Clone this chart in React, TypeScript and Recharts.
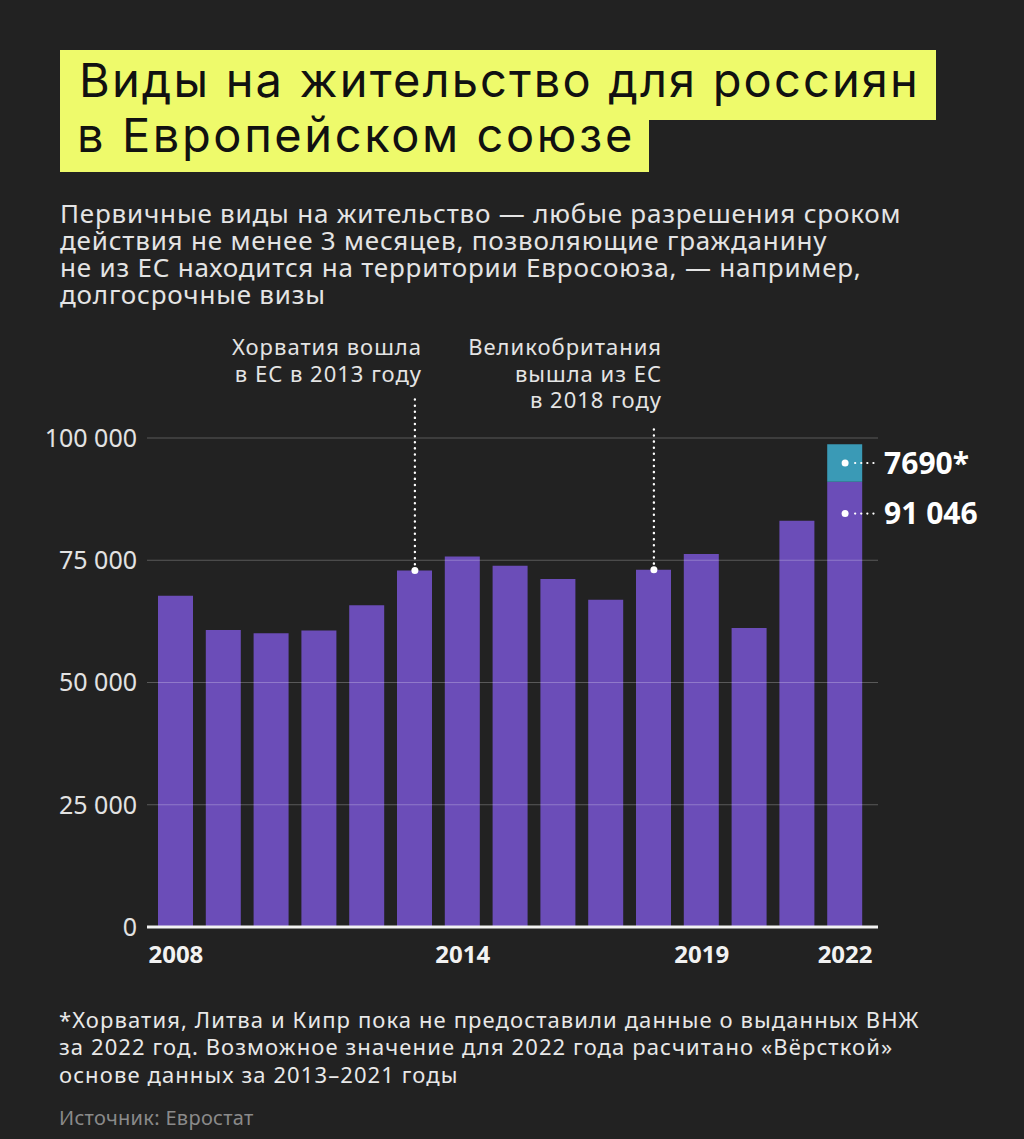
import React from 'react';
import { BarChart, Bar, XAxis, YAxis, ReferenceLine, ReferenceDot } from 'recharts';

const years = ['2008', '2009', '2010', '2011', '2012', '2013', '2014', '2015', '2016', '2017', '2018', '2019', '2020', '2021', '2022'];
const permits = [67760, 60750, 60060, 60610, 65780, 72920, 75780, 73880, 71160, 66940, 73060, 76260, 61160, 83060, 91046];
const estimate = [0, 0, 0, 0, 0, 0, 0, 0, 0, 0, 0, 0, 0, 0, 7690];
const yTicks = [0, 25000, 50000, 75000, 100000];
const shownYears = ['2008', '2014', '2019', '2022'];

const BG = '#222222';
const PURPLE = '#6b4db8';
const TEAL = '#3a9ab6';
const YELLOW = '#eefa6b';
const FONT = '"Noto Sans", sans-serif';

const chartData = years.map((year, i) => ({
  year,
  permits: permits[i],
  estimate: estimate[i],
}));

const fmt = (v: number) => (v === 0 ? '0' : v.toLocaleString('ru-RU').replace(/\s/g, ' '));

function ValueMark(props: any) {
  const { cx, cy, text } = props;
  return (
    <g>
      <circle cx={cx} cy={cy} r={3.5} fill="#fff" />
      <line x1={cx + 10} y1={cy} x2={cx + 33} y2={cy} stroke="#fff" strokeWidth={2.2} strokeDasharray="0.1 6" strokeLinecap="round" />
      <text x={cx + 39} y={cy} dy="0.36em" fill="#fff" fontFamily={FONT} fontWeight={700} fontSize={30}>{text}</text>
    </g>
  );
}

export default function App() {
  return (
    <div style={{ position: 'absolute', left: 0, top: 0, width: 1024, height: 1139, background: BG, overflow: 'hidden' }}>
      <div style={{ position: 'absolute', left: 0, top: 0 }}>
        <BarChart width={1024} height={1000} data={chartData} margin={{ top: 438, right: 146, bottom: 0, left: 0 }}>
          <XAxis
            dataKey="year"
            interval={0}
            padding={{ left: 5, right: 9 }}
            height={73}
            tickSize={0}
            tickMargin={19}
            tickFormatter={(v) => (shownYears.includes(v) ? v : '')}
            tick={{ fontFamily: FONT, fontSize: 24, fontWeight: 700, fill: '#f2f2f2' }}
            axisLine={{ stroke: '#f2f2f2', strokeWidth: 3 }}
          />
          <YAxis
            width={147}
            domain={[0, 100000]}
            ticks={yTicks}
            tickSize={0}
            tickMargin={10}
            axisLine={false}
            tickFormatter={fmt}
            tick={{ fontFamily: FONT, fontSize: 25, fill: '#e2e2e2' }}
          />
          <Bar dataKey="permits" stackId="a" fill={PURPLE} barSize={35} isAnimationActive={false} />
          <Bar dataKey="estimate" stackId="a" fill={TEAL} barSize={35} isAnimationActive={false} />
          {yTicks.slice(1).map((t) => (
            <ReferenceLine key={t} y={t} stroke="rgba(255,255,255,0.25)" strokeWidth={1} />
          ))}
          <ReferenceLine
            segment={[{ x: '2013', y: permits[5] }, { x: '2013', y: 108400 }]}
            stroke="#fff"
            strokeWidth={2.4}
            strokeDasharray="0.1 6"
            strokeLinecap="round"
            ifOverflow="visible"
          />
          <ReferenceLine
            segment={[{ x: '2018', y: permits[10] }, { x: '2018', y: 102900 }]}
            stroke="#fff"
            strokeWidth={2.4}
            strokeDasharray="0.1 6"
            strokeLinecap="round"
            ifOverflow="visible"
          />
          <ReferenceDot x="2013" y={permits[5]} r={3.5} fill="#fff" stroke="none" />
          <ReferenceDot x="2018" y={permits[10]} r={3.5} fill="#fff" stroke="none" />
          <ReferenceDot
            x="2022"
            y={permits[14] + estimate[14] / 2}
            ifOverflow="visible"
            shape={(p: any) => <ValueMark {...p} text={`${estimate[14]}*`} />}
          />
          <ReferenceDot
            x="2022"
            y={84550}
            ifOverflow="visible"
            shape={(p: any) => <ValueMark {...p} text={fmt(permits[14])} />}
          />
        </BarChart>
      </div>

      <div style={{ position: 'absolute', left: 60, top: 50, height: 70, background: YELLOW, paddingLeft: 19, paddingRight: 16, fontFamily: 'Inter, sans-serif', fontSize: 47, lineHeight: '59px', color: '#111', letterSpacing: 2.15, whiteSpace: 'nowrap' }}>
        Виды на жительство для россиян
      </div>
      <div style={{ position: 'absolute', left: 60, top: 120, height: 52, background: YELLOW, paddingLeft: 17, paddingRight: 14, fontFamily: 'Inter, sans-serif', fontSize: 47, lineHeight: '29px', color: '#111', letterSpacing: 2.6, whiteSpace: 'nowrap' }}>
        в Европейском союзе
      </div>

      <div style={{ position: 'absolute', left: 60, top: 199.5, fontFamily: FONT, fontSize: 26, lineHeight: '27.3px', color: '#e4e4e4', letterSpacing: 0.8, whiteSpace: 'nowrap' }}>
        Первичные виды на жительство — любые разрешения сроком<br />
        действия не менее 3 месяцев, позволяющие гражданину<br />
        не из ЕС находится на территории Евросоюза, — например,<br />
        долгосрочные визы
      </div>

      <div style={{ position: 'absolute', right: 1024 - 422, top: 333, textAlign: 'right', fontFamily: FONT, fontSize: 22, lineHeight: '26.7px', color: '#e4e4e4', letterSpacing: 1, whiteSpace: 'nowrap' }}>
        Хорватия вошла<br />
        в ЕС в 2013 году
      </div>
      <div style={{ position: 'absolute', right: 1024 - 662, top: 333, textAlign: 'right', fontFamily: FONT, fontSize: 22, lineHeight: '26.7px', color: '#e4e4e4', letterSpacing: 1, whiteSpace: 'nowrap' }}>
        Великобритания<br />
        вышла из ЕС<br />
        в 2018 году
      </div>

      <div style={{ position: 'absolute', left: 59, top: 1005.5, fontFamily: FONT, fontSize: 22, lineHeight: '27.5px', color: '#e8e8e8', letterSpacing: 1.1, whiteSpace: 'nowrap' }}>
        *Хорватия, Литва и Кипр пока не предоставили данные о выданных ВНЖ<br />
        за 2022 год. Возможное значение для 2022 года расчитано «Вёрсткой»<br />
        основе данных за 2013–2021 годы
      </div>
      <div style={{ position: 'absolute', left: 59, top: 1104, fontFamily: FONT, fontSize: 20, lineHeight: '27px', color: '#8a8a8a', letterSpacing: 0.3, whiteSpace: 'nowrap' }}>
        Источник: Евростат
      </div>
    </div>
  );
}
